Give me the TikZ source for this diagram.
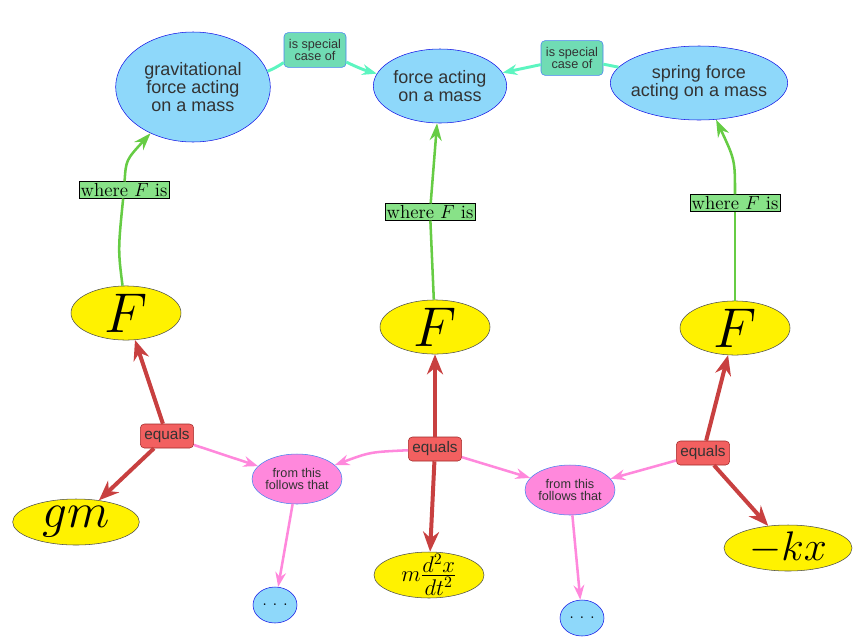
\RequirePackage{fix-cm}
\documentclass[tikz,border=0pt]{standalone}
\usepackage{fontspec}
\setsansfont{Liberation Sans}
\usepackage{amsmath}
\usepackage{tikz}
\usetikzlibrary{arrows.meta, shapes.geometric}

\definecolor{skyfill}{RGB}{142,216,250}
\definecolor{skyline}{RGB}{20,20,230}
\definecolor{darktext}{RGB}{51,51,51}
\definecolor{eqfill}{RGB}{242,96,96}
\definecolor{eqline}{RGB}{160,40,40}
\definecolor{eqarrow}{RGB}{200,64,64}
\definecolor{pinkfill}{RGB}{255,136,220}
\definecolor{pinkline}{RGB}{70,130,240}
\definecolor{spfill}{RGB}{112,220,180}
\definecolor{sparrow}{RGB}{92,245,192}
\definecolor{wherefill}{RGB}{136,226,136}
\definecolor{wherearrow}{RGB}{102,204,68}

\begin{document}
\begin{tikzpicture}[x=0.75pt, y=-0.75pt,
        concept/.style={ellipse, draw=skyline, fill=skyfill, inner sep=0pt, text=darktext, align=center, font=\sffamily\fontsize{13.5}{13.5}\selectfont},
        value/.style={ellipse, draw=black!70, fill=yellow, inner sep=0pt, minimum width=82.5pt, minimum height=34.5pt},
        special/.style={rectangle, rounded corners=3pt, draw=pinkline, fill=spfill, text=darktext, align=center, inner sep=0pt, minimum width=46.5pt, minimum height=26pt, font=\sffamily\fontsize{9.5}{9.5}\selectfont},
        whereis/.style={rectangle, draw=black, fill=wherefill, inner sep=1.2pt, font=\fontsize{14.2}{15}\selectfont},
        equals/.style={rectangle, rounded corners=3pt, draw=eqline, fill=eqfill, text=darktext, inner sep=0pt, minimum width=40pt, minimum height=18pt, font=\sffamily\fontsize{11.5}{11.5}\selectfont},
        follows/.style={ellipse, draw=pinkline, fill=pinkfill, text=darktext, align=center, inner sep=0pt, minimum width=67.5pt, minimum height=37.5pt, font=\sffamily\fontsize{9.5}{9.5}\selectfont},
        dots/.style={ellipse, draw=skyline, fill=skyfill, inner sep=0pt, minimum width=33pt, minimum height=27pt, font=\fontsize{13}{13}\selectfont},
        sp line/.style={draw=sparrow, line width=2.2pt},
        wh line/.style={draw=wherearrow, line width=1.9pt},
        eq line/.style={draw=eqarrow, line width=3pt},
        pk line/.style={draw=pinkfill, line width=1.9pt}]
    \useasboundingbox (0,0) rectangle (866,643);

    \node[concept, minimum width=116pt, minimum height=82.5pt](grav) at (193,87) {gravitational\\force acting\\on a mass};
    \node[concept, minimum width=100pt, minimum height=55.5pt](force) at (440,86) {force acting\\on a mass};
    \node[concept, inner xsep=-5pt, minimum width=133pt, minimum height=55.5pt](spring) at (699,83) {spring force\\acting on a mass};
    \node[special](sp1) at (315,50) {is special\\case of};
    \node[special](sp2) at (572,58) {is special\\case of};

    \node[whereis](w1) at (124,190) {where $F$ is};
    \node[whereis](w2) at (430,212) {where $F$ is};
    \node[whereis](w3) at (735,203) {where $F$ is};

    \node[value, font=\fontsize{42}{42}\selectfont](f1) at (126,313) {$F$};
    \node[value, font=\fontsize{42}{42}\selectfont](f2) at (435,327) {$F$};
    \node[value, font=\fontsize{42}{42}\selectfont](f3) at (735,328) {$F$};

    \node[equals](eq1) at (167,436) {equals};
    \node[equals](eq2) at (435,449) {equals};
    \node[equals](eq3) at (703,453) {equals};

    \node[follows](fo1) at (297,479) {from this\\follows that};
    \node[follows](fo2) at (570,490) {from this\\follows that};

    \node[value, minimum width=95pt, font=\fontsize{37}{37}\selectfont](gm) at (76,522) {$gm$};
    \node[value, inner ysep=-9pt, font=\fontsize{17}{17}\selectfont](mdx) at (429,575) {$m\frac{\textstyle d^2x}{\textstyle dt^2}$};
    \node[value, minimum width=96pt, font=\fontsize{31}{31}\selectfont](kx) at (788,548) {$-kx$};

    \node[dots](d1) at (275,605) {.\ .\ .};
    \node[dots](d2) at (582,618) {.\ .\ .};

    \draw[sp line] (grav) to[bend right=5] (sp1);
    \draw[sp line, -{Stealth[length=11pt, width=8pt]}] (sp1) to[bend right=5] (force);
    \draw[sp line] (spring) -- (sp2);
    \draw[sp line, -{Stealth[length=11pt, width=8pt]}] (sp2) -- (force);

    \draw[wh line] (f1) .. controls (118,250) .. (w1);
    \draw[wh line, -{Stealth[length=13pt, width=9pt]}] (w1) .. controls (126,160) .. (grav);
    \draw[wh line] (f2) -- (w2);
    \draw[wh line, -{Stealth[length=13pt, width=9pt]}] (w2) -- (force);
    \draw[wh line] (f3) -- (w3);
    \draw[wh line, -{Stealth[length=13pt, width=9pt]}] (w3) .. controls (735,160) .. (spring);

    \draw[eq line, -{Stealth[length=15pt, width=12pt]}] (eq1) -- (f1);
    \draw[eq line, -{Stealth[length=15pt, width=12pt]}] (eq1) -- (gm);
    \draw[eq line, -{Stealth[length=15pt, width=12pt]}] (eq2) -- (f2);
    \draw[eq line, -{Stealth[length=15pt, width=12pt]}] (eq2) -- (mdx);
    \draw[eq line, -{Stealth[length=15pt, width=12pt]}] (eq3) -- (f3);
    \draw[eq line, -{Stealth[length=15pt, width=12pt]}] (eq3) -- (kx);

    \draw[pk line, -{Stealth[length=11pt, width=8pt]}] (eq1) -- (fo1);
    \draw[pk line, -{Stealth[length=11pt, width=8pt]}] (eq2) .. controls (370,452) .. (fo1);
    \draw[pk line, -{Stealth[length=11pt, width=8pt]}] (eq2) -- (fo2);
    \draw[pk line, -{Stealth[length=11pt, width=8pt]}] (eq3) -- (fo2);
    \draw[pk line, -{Stealth[length=11pt, width=8pt]}] (fo1) -- (d1);
    \draw[pk line, -{Stealth[length=11pt, width=8pt]}] (fo2) -- (d2);
\end{tikzpicture}
\end{document}
